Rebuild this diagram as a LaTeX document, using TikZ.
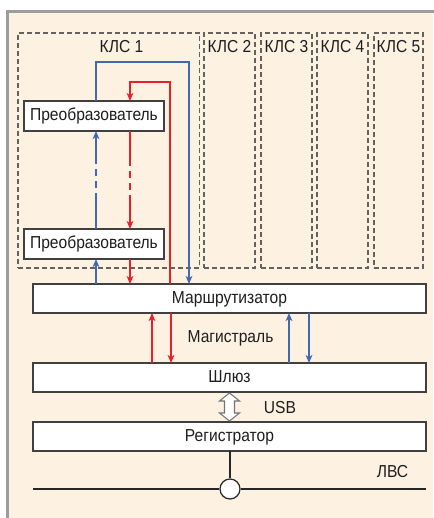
\documentclass[tikz,border=0pt]{standalone}
\usepackage{fontspec}
\setmainfont{Liberation Sans}[FakeStretch=0.9]
\usetikzlibrary{arrows.meta,calc}
\definecolor{peach}{HTML}{FDF1E2}
\definecolor{framegray}{HTML}{9C9C9C}
\definecolor{dashgray}{HTML}{66615C}
\definecolor{lred}{HTML}{E6212A}
\definecolor{lblue}{HTML}{4268B2}
\definecolor{ink}{HTML}{1E1E1E}
\begin{document}
\begin{tikzpicture}[x=0.75pt,y=-0.75pt,
  font=\fontsize{13}{15}\selectfont, text=ink,
  >={Stealth[length=6pt,width=5pt,inset=1.6pt]},
  box/.style={draw=ink!85, line width=0.9pt, fill=white, inner sep=0pt, outer sep=0pt,
    text height=9.3pt, text depth=2pt},
  conv/.style={box, minimum width=105pt, minimum height=22.5pt},
  wide/.style={box, minimum width=294.75pt, minimum height=21.75pt},
  kls/.style={draw=dashgray, line width=0.8pt, dash pattern=on 3.75pt off 2.25pt,
    inner sep=0pt, outer sep=0pt, minimum height=176.25pt},
  klslabel/.style={anchor=base, inner sep=0pt},
  bl/.style={draw=lblue, line width=1.1pt},
  rd/.style={draw=lred, line width=1.1pt},
  brk/.style={line width=1.7pt, dash pattern=on 5.25pt off 3.75pt},
  lan/.style={draw=black!85, line width=1.5pt},
  usb/.style={draw=black!55, line width=0.8pt, fill=white, line join=miter}]
\useasboundingbox (0,0) rectangle (433,518);

% background panel with its gray frame
\fill[peach] (7.5,11.5) rectangle (433,518);
\draw[framegray, line width=2.3pt] (7.5,520) -- (7.5,11.5) -- (435,11.5);

% dashed cabinets
\node[kls, minimum width=136.1pt] (k1) at (108.75,150.5) {};
\node[kls, minimum width=38.25pt] (k2) at (229.5,150.5) {};
\node[kls, minimum width=38.25pt] (k3) at (286.5,150.5) {};
\node[kls, minimum width=38.25pt] (k4) at (342.5,150.5) {};
\node[kls, minimum width=36.75pt] (k5) at (398.5,150.5) {};
\node[klslabel] (k1l) at (121.5,52) {КЛС 1};
\node[klslabel] (k2l) at (229.5,52) {КЛС 2};
\node[klslabel] (k3l) at (286.5,52) {КЛС 3};
\node[klslabel] (k4l) at (342.5,52) {КЛС 4};
\node[klslabel] (k5l) at (398.5,52) {КЛС 5};

% converters, router, gateway, recorder
\node[conv] (c1) at (94,116) {Преобразователь};
\node[conv] (c2) at (94,244) {Преобразователь};
\node[wide] (rt) at (229.5,298.5) {Маршрутизатор};
\node[wide] (gw) at (229.5,377.5) {Шлюз};
\node[wide] (rg) at (229.5,436.5) {Регистратор};

% column positions of the links
\coordinate (bx) at (96,0);
\coordinate (rx) at (130,0);
\coordinate (btop) at (189,62);
\coordinate (rtop) at (170,82);
\coordinate (dhi) at (0,159);
\coordinate (dlo) at (0,200);

% loop links between router and the upper converter
\draw[bl,->] (c1.north -| bx) |- (btop) -- (rt.north -| btop);
\draw[rd,->] (rt.north -| rtop) -- (rtop) -| (c1.north -| rx);

% broken links between the two converters
\draw[bl] (c2.north -| bx) -- (bx |- dlo);
\draw[bl,brk] (bx |- dlo) -- (bx |- dhi);
\draw[bl,->] (bx |- dhi) -- (c1.south -| bx);
\draw[rd] (c1.south -| rx) -- (rx |- dhi);
\draw[rd,brk] (rx |- dhi) -- (rx |- dlo);
\draw[rd,->] (rx |- dlo) -- (c2.north -| rx);

% lower converter to router
\draw[bl,->] (rt.north -| bx) -- (c2.south -| bx);
\draw[rd,->] (c2.south -| rx) -- (rt.north -| rx);

% trunk between router and gateway
\coordinate (m1) at (152,0);
\coordinate (m2) at (171,0);
\coordinate (m3) at (289,0);
\coordinate (m4) at (309,0);
\draw[rd,->] (gw.north -| m1) -- (rt.south -| m1);
\draw[rd,->] (rt.south -| m2) -- (gw.north -| m2);
\draw[bl,->] (gw.north -| m3) -- (rt.south -| m3);
\draw[bl,->] (rt.south -| m4) -- (gw.north -| m4);
\node[anchor=base, inner sep=0pt] (trunk) at (230.5,342) {Магистраль};

% USB link
\coordinate (usbc) at ($(gw.south)!0.5!(rg.north)$);
\begin{scope}[shift={(usbc)}]
\draw[usb] (0,-14) -- (10,-6) -- (5,-6) -- (5,6) -- (10,6) -- (0,14)
  -- (-10,6) -- (-5,6) -- (-5,-6) -- (-10,-6) -- cycle;
\end{scope}
\node[anchor=base, inner sep=0pt] (usbl) at (280,413) {USB};

% LAN
\coordinate (lanL) at (33,489);
\coordinate (lanR) at (426,489);
\node[circle, draw=black!85, line width=0.9pt, fill=white, minimum size=15pt,
  inner sep=0pt] (hub) at (230,489) {};
\draw[lan] (lanL) -- (hub.west);
\draw[lan] (hub.east) -- (lanR);
\draw[lan] (rg.south -| hub) -- (hub.north);
\node[anchor=base, inner sep=0pt] (lanl) at (392.5,477) {ЛВС};
\end{tikzpicture}
\end{document}
